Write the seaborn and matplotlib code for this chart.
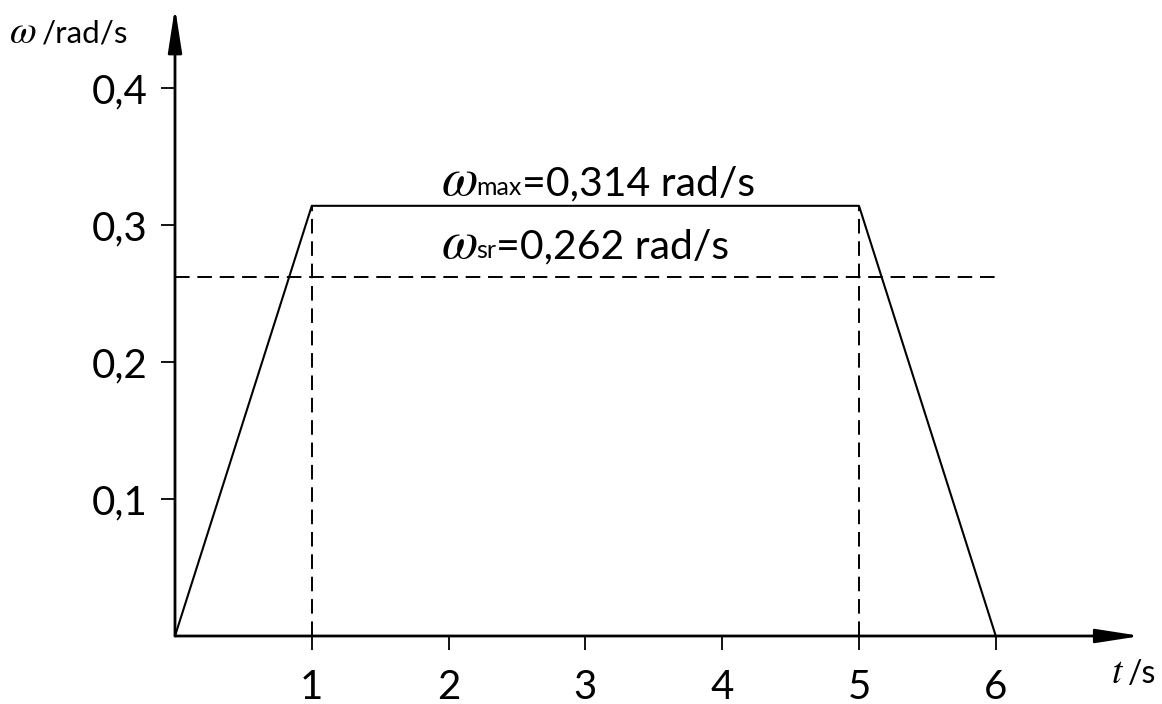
import matplotlib
matplotlib.use("Agg")
import matplotlib.pyplot as plt
import seaborn as sns
import pandas as pd

# data
t = [0, 1, 5, 6]
omega = [0, 0.314, 0.314, 0]
omega_max = 0.314
omega_sr = 0.262
t_acc_end = 1
t_dec_start = 5
t_end = 6
xticks = [1, 2, 3, 4, 5, 6]
xtick_labels = ['1', '2', '3', '4', '5', '6']
yticks = [0.1, 0.2, 0.3, 0.4]
ytick_labels = ['0,1', '0,2', '0,3', '0,4']

sns.set_theme(style="white")
plt.rcParams['font.family'] = ['Lato', 'DejaVu Sans']
plt.rcParams['mathtext.fontset'] = 'stix'

W, H = 1162, 704
fig = plt.figure(figsize=(W / 100, H / 100), dpi=100)
# axes placed so that origin sits at pixel (175, 636)
x0, y0, x1, y1 = 175, 636, 1145, 10
ax = fig.add_axes([x0 / W, 1 - y0 / H, (x1 - x0) / W, (y0 - y1) / H])
px_per_t = 136.8
px_per_w = 1370.0
ax.set_xlim(0, (x1 - x0) / px_per_t)
ax.set_ylim(0, (y0 - y1) / px_per_w)

df = pd.DataFrame({'t': t, 'omega': omega})
sns.lineplot(data=df, x='t', y='omega', color='black', lw=1.5,
             sort=False, estimator=None, ax=ax)

dash = (0, (7.5, 4))
ax.plot([0, t_end], [omega_sr, omega_sr], color='black', lw=1.4, linestyle=dash)
ax.plot([t_acc_end, t_acc_end], [0, omega_max], color='black', lw=1.4, linestyle=dash)
ax.plot([t_dec_start, t_dec_start], [0, omega_max], color='black', lw=1.4, linestyle=dash)

# axis arrows
arrow = dict(arrowstyle='-|>,head_length=2.7,head_width=0.42', color='black',
             lw=2, mutation_scale=10, shrinkA=0, shrinkB=0)
ax.annotate('', xy=(7.06, 0), xytext=(0, 0), arrowprops=arrow, annotation_clip=False)
ax.annotate('', xy=(0, 0.4588), xytext=(0, 0), arrowprops=arrow, annotation_clip=False)

for s in ax.spines.values():
    s.set_visible(False)
ax.set_xticks(xticks)
ax.set_xticklabels(xtick_labels)
ax.set_yticks(yticks)
ax.set_yticklabels(ytick_labels)
ax.tick_params(axis='both', direction='out', length=10, width=1.3, color='black',
               labelsize=29, labelcolor='black', bottom=True, left=True)
ax.tick_params(axis='x', pad=14)
ax.tick_params(axis='y', pad=10)
ax.set_xlabel('')
ax.set_ylabel('')

renderer = fig.canvas.get_renderer()


def chain(px, py, parts):
    # lay text pieces one after another on a common baseline
    x = px
    for s, size, gap in parts:
        x += gap
        txt = fig.text(x / W, 1 - py / H, s, fontsize=size, ha='left',
                       va='baseline', color='black')
        x = txt.get_window_extent(renderer).x1


# axis labels
chain(9, 43, [(r'$\omega$', 28, 0), ('/rad/s', 22.5, 6)])
chain(1111, 683, [(r'$t$', 27, 0), ('/s', 23, 4)])

# annotations
chain(441, 195, [(r'$\omega$', 38, 0), ('max', 18, -1), ('=0,314 rad/s', 29.5, 0)])
chain(441, 258, [(r'$\omega$', 38, 0), ('sr', 18, -1), ('=0,262 rad/s', 29.5, 0)])

fig.savefig('out.png', dpi=100, facecolor='white')
